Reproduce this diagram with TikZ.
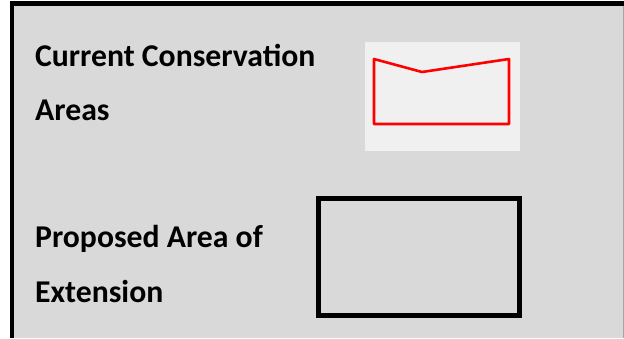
\documentclass[tikz,border=0pt]{standalone}
\usepackage{fontspec}
\setmainfont{Carlito}
\definecolor{panel}{HTML}{D9D9D9}
\definecolor{swatch}{HTML}{F0F0F0}
\definecolor{redline}{HTML}{FF0000}
\tikzset{
  label/.style={anchor=base west, inner sep=0pt, font=\fontsize{31.7}{36}\selectfont\bfseries},
}
\begin{document}
\begin{tikzpicture}[x=1pt,y=1pt]
\useasboundingbox (0,0) rectangle (624,338);
\fill[white] (0,0) rectangle (624,338);
\fill[panel] (12,0) rectangle (624,335);
\draw[gray!70, line width=1pt] (623.5,0) -- (623.5,334);
\draw[black, line width=4.5pt] (12,0) -- (12,334.5) -- (624,334.5);
% swatch for current conservation areas
\fill[swatch] (365,187) rectangle (520,296);
\draw[redline, line width=2.6pt, line join=round]
  (374,279) -- (422,266) -- (509,279) -- (509,214) -- (374,214) -- cycle;
% proposed area box
\node[draw=black, line width=5pt, minimum width=201pt, minimum height=117pt, inner sep=0pt] (prop) at (419,81) {};
\node[label] (t1) at (35,271) {Current Conservation};
\node[label] (t2) at (35,217) {Areas};
\node[label] (t3) at (35,91) {Proposed Area of};
\node[label] (t4) at (35,36) {Extension};
\end{tikzpicture}
\end{document}
